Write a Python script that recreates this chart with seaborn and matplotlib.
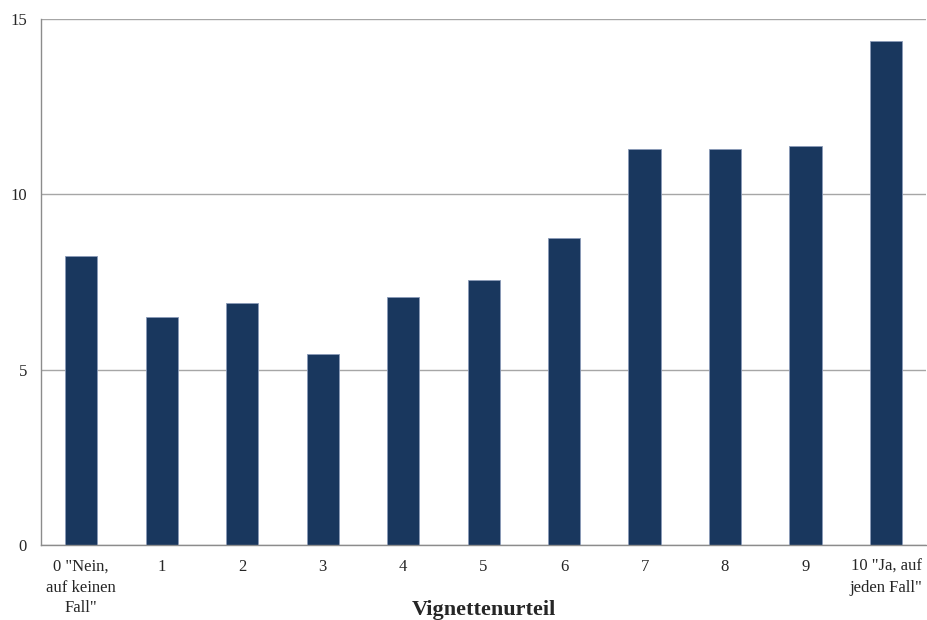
import matplotlib
matplotlib.use("Agg")
import matplotlib.pyplot as plt
import seaborn as sns
import pandas as pd
import numpy as np

categories = ['0 "Nein,\nauf keinen\nFall"', "1", "2", "3", "4", "5", "6", "7", "8", "9",
              '10 "Ja, auf\njeden Fall"']
values = [8.25, 6.50, 6.90, 5.46, 7.08, 7.57, 8.76, 11.29, 11.29, 11.37, 14.37]
y_ticks = [0, 5, 10, 15]

sns.set_theme(style="white")
plt.rcParams["font.family"] = ["Liberation Serif", "DejaVu Serif"]

df = pd.DataFrame({"Urteil": categories, "Wert": values})

fig = plt.figure(figsize=(9.27, 6.2), dpi=100)
ax = fig.add_axes([0.0442, 0.121, 0.955, 0.848])

sns.barplot(data=df, x="Urteil", y="Wert", order=categories, color="#19375E",
            width=0.4, edgecolor="#8A9AB8", linewidth=0.6, saturation=1, ax=ax)

ax.set_ylim(0, 15)
ax.set_xlim(-0.5, len(categories) - 0.5)
ax.set_yticks(y_ticks)
ax.set_yticklabels([str(t) for t in y_ticks], fontsize=12)
ax.yaxis.grid(True, color="#A6A6A6", linewidth=1.0)
ax.set_axisbelow(True)

# ticks between categories, labels centred under the bars
ax.set_xticks(np.arange(len(categories)))
ax.set_xticklabels(categories, fontsize=12, linespacing=1.4)
ax.set_xticks(np.arange(-0.5, len(categories)), minor=True)
ax.tick_params(axis="x", which="major", length=0, pad=10)
ax.tick_params(axis="x", which="minor", length=5, width=1, color="#8C8C8C", direction="out")
ax.tick_params(axis="y", length=5, width=1, color="#8C8C8C", direction="out", pad=5)

for side in ["top", "right"]:
    ax.spines[side].set_visible(False)
for side in ["left", "bottom"]:
    ax.spines[side].set_color("#8C8C8C")
    ax.spines[side].set_linewidth(1.0)

ax.set_ylabel("")
ax.set_xlabel("Vignettenurteil", fontsize=16, fontweight="bold")
ax.xaxis.label.set_va("center")
ax.xaxis.set_label_coords(0.5, -0.123)

fig.savefig("out.png", dpi=100)
